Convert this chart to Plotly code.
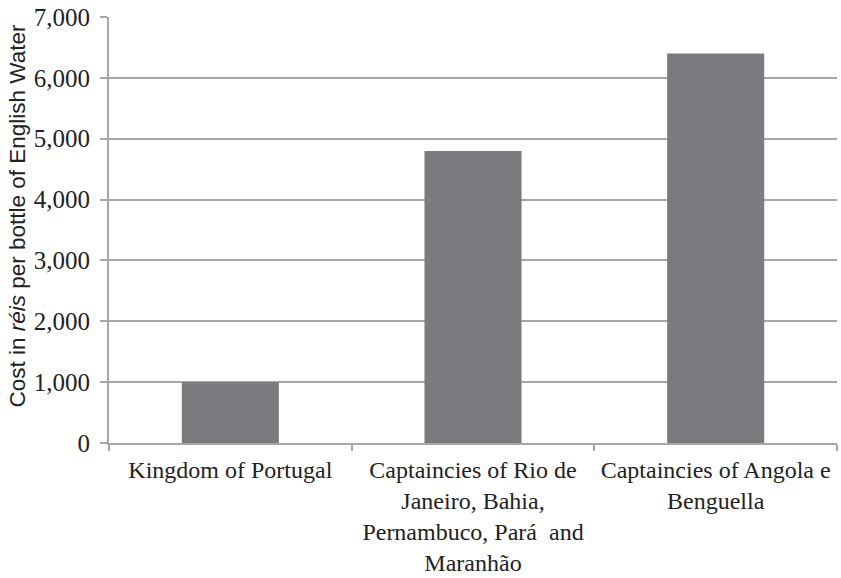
import plotly.graph_objects as go

categories = [
    "Kingdom of Portugal",
    "Captaincies of Rio de<br>Janeiro, Bahia,<br>Pernambuco, Pará  and<br>Maranhão",
    "Captaincies of Angola e<br>Benguella",
]
values = [1000, 4800, 6400]
y_ticks = [0, 1000, 2000, 3000, 4000, 5000, 6000, 7000]
y_title = "Cost in <i>réis</i> per bottle of English Water"

grid = "#a6a6a6"
serif = "Liberation Serif, DejaVu Serif, serif"

fig = go.Figure(go.Bar(x=categories, y=values, marker=dict(color="#7a7b7e", line=dict(width=0)), width=0.4))

fig.update_layout(
    width=841, height=578,
    margin=dict(l=109, r=4, t=17, b=135),
    paper_bgcolor="white", plot_bgcolor="white",
    showlegend=False,
    bargap=0.6,
)
fig.update_xaxes(
    type="category", automargin=False,
    showline=True, linecolor=grid, linewidth=2,
    ticks="outside", tickson="boundaries", ticklen=6, tickcolor=grid, tickwidth=2,
    showgrid=False,
    tickfont=dict(family=serif, size=24, color="#222"),
    tickangle=0, ticklabelstandoff=4,
)
fig.update_yaxes(
    range=[0, 7000], tickvals=y_ticks, tickformat=",", automargin=False,
    showline=True, linecolor=grid, linewidth=2,
    ticks="outside", ticklen=7, tickcolor=grid, tickwidth=2,
    showgrid=True, gridcolor=grid, gridwidth=2,
    zeroline=False,
    tickfont=dict(family=serif, size=25, color="#222"),
    ticklabelstandoff=5,
)
fig.add_annotation(
    text=y_title, textangle=-90, showarrow=False,
    xref="paper", yref="paper", x=-0.1255, y=0.533,
    xanchor="center", yanchor="middle",
    font=dict(family="Liberation Sans, Arial, sans-serif", size=22.5, color="#222"),
)
fig.write_html("out.html", config={"displayModeBar": False},
               post_script="document.body.style.margin='0px';")
